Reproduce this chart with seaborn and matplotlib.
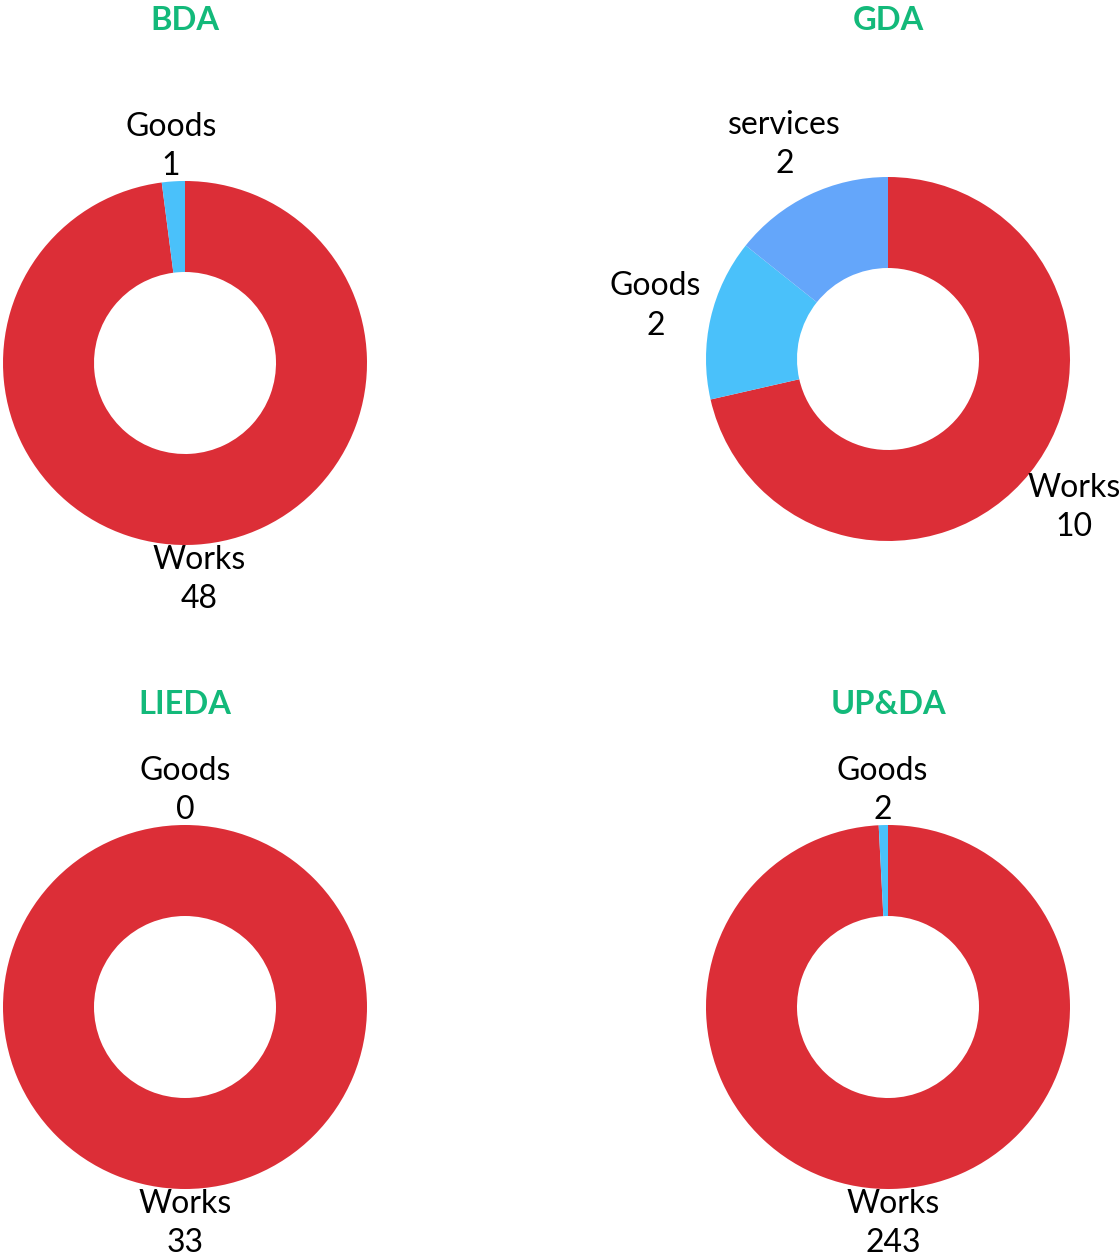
import matplotlib
matplotlib.use("Agg")
import matplotlib.pyplot as plt
import seaborn as sns

# data
regions = ["BDA", "GDA", "LIEDA", "UP&DA"]
categories = {
    "BDA": ["Works", "Goods"],
    "GDA": ["Works", "Goods", "services"],
    "LIEDA": ["Works", "Goods"],
    "UP&DA": ["Works", "Goods"],
}
counts = {
    "BDA": [48, 1],
    "GDA": [10, 2, 2],
    "LIEDA": [33, 0],
    "UP&DA": [243, 2],
}

cat_colors = {"Works": "#dc2e37", "Goods": "#4ac1fa", "services": "#64a6fa"}
title_color = "#13b97a"

sns.set_theme(style="white")
plt.rcParams["font.family"] = ["Lato", "DejaVu Sans"]

W, H = 1120, 1256
fig = plt.figure(figsize=(W / 100, H / 100), dpi=100)

# centre of each donut in pixels (x from left, y from top), outer radius
centres = {"BDA": (185, 363), "GDA": (888, 359), "LIEDA": (185, 1007), "UP&DA": (888, 1007)}
label_dist = {"BDA": 1.19, "GDA": 1.31, "LIEDA": 1.19, "UP&DA": 1.19}
titles_y = {"BDA": 20, "GDA": 20, "LIEDA": 704, "UP&DA": 704}
radius = 182
lim = 1.05
size = 2 * lim * radius

for reg in regions:
    cx, cy = centres[reg]
    ax = fig.add_axes([(cx - size / 2) / W, (H - cy - size / 2) / H, size / W, size / H])
    vals = counts[reg]
    labels = [f"{c}\n{v}" for c, v in zip(categories[reg], vals)]
    wedges, texts = ax.pie(
        vals,
        labels=labels,
        colors=[cat_colors[c] for c in categories[reg]],
        startangle=90,
        counterclock=False,
        labeldistance=label_dist[reg],
        wedgeprops=dict(width=0.5, linewidth=0),
        textprops=dict(fontsize=23, color="black", linespacing=1.38),
    )
    for t in texts:
        t.set_ha("center")
        t.set_va("center")
    ax.set_xlim(-lim, lim)
    ax.set_ylim(-lim, lim)
    ax.set_aspect("equal")
    ax.axis("off")
    fig.text(cx / W, 1 - titles_y[reg] / H, reg, ha="center", va="center",
             fontsize=23.5, fontweight="bold", color=title_color)

fig.savefig("out.png", dpi=100, facecolor="white")
